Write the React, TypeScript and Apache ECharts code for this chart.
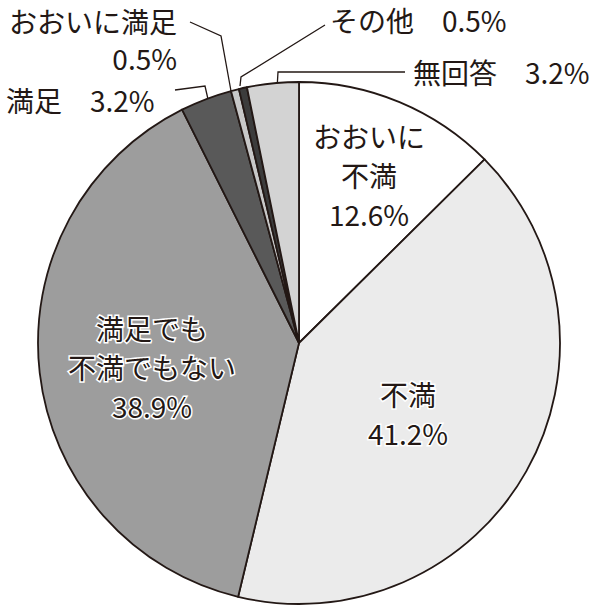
import React, { useEffect, useRef } from "react";
import * as echarts from "echarts";

const categories = [
  "おおいに不満",
  "不満",
  "満足でも不満でもない",
  "満足",
  "おおいに満足",
  "その他",
  "無回答",
];
const values = [12.6, 41.2, 38.9, 3.2, 0.5, 0.5, 3.2];
const labelTexts = [
  "おおいに\n不満\n12.6%",
  "不満\n41.2%",
  "満足でも\n不満でもない\n38.9%",
  "満足　3.2%",
  "おおいに満足\n0.5%",
  "その他　0.5%",
  "無回答　3.2%",
];
const colors = ["#ffffff", "#ebebeb", "#9d9d9d", "#595959", "#c8c8c8", "#3c3c3c", "#d3d3d3"];

const INK = "#231815";
const FONT = "'Noto Sans CJK JP', 'Noto Sans', sans-serif";

// label placement (layout only)
const labelPlacement: any[] = [
  { x: 369, y: 175, align: "center", verticalAlign: "middle" },
  { x: 408, y: 413, align: "center", verticalAlign: "middle" },
  { x: 152, y: 367, align: "center", verticalAlign: "middle" },
  {
    x: 6, y: 100, align: "left", verticalAlign: "middle",
    labelLinePoints: [[210, 108], [205, 86], [175, 90]],
  },
  {
    x: 177, y: 39, align: "right", verticalAlign: "middle",
    labelLinePoints: [[231, 91], [221, 36], [190, 22]],
  },
  {
    x: 330, y: 20, align: "left", verticalAlign: "middle",
    labelLinePoints: [[240, 86], [241, 77], [325, 25]],
  },
  {
    x: 413, y: 72, align: "left", verticalAlign: "middle",
    labelLinePoints: [[277, 89], [278, 72], [405, 72]],
  },
];

export default function App() {
  const ref = useRef<HTMLDivElement>(null);
  useEffect(() => {
    document.body.style.margin = "0";
    const chart = echarts.init(ref.current!, null, { renderer: "svg" });
    const data = categories.map((name, i) => {
      const inner = i < 3;
      return {
        name,
        value: values[i],
        itemStyle: { color: colors[i] },
        label: {
          show: true,
          position: inner ? "inside" : "outside",
          formatter: () => labelTexts[i],
          color: INK,
          fontSize: 28,
          lineHeight: inner ? 39 : 37,
          fontFamily: FONT,
          textBorderColor: inner ? "#ffffff" : "transparent",
          textBorderWidth: inner ? 3 : 0,
          align: inner ? "center" : labelPlacement[i].align,
        },
        labelLine: inner
          ? { show: false }
          : { show: true, length: 10, length2: 10, smooth: false, lineStyle: { color: INK, width: 1.3 } },
      };
    });
    chart.setOption({
      animation: false,
      backgroundColor: "#ffffff",
      series: [
        {
          type: "pie",
          center: [299, 343],
          radius: [0, 261],
          startAngle: 90,
          clockwise: true,
          avoidLabelOverlap: false,
          itemStyle: { borderColor: INK, borderWidth: 1.8 },
          emphasis: { disabled: true },
          data,
          labelLayout: (params: any) => {
            const p = labelPlacement[params.dataIndex];
            return { ...p };
          },
        },
      ],
    });
    return () => chart.dispose();
  }, []);
  return <div ref={ref} style={{ position: "absolute", left: 0, top: 0, width: 600, height: 608 }} />;
}
